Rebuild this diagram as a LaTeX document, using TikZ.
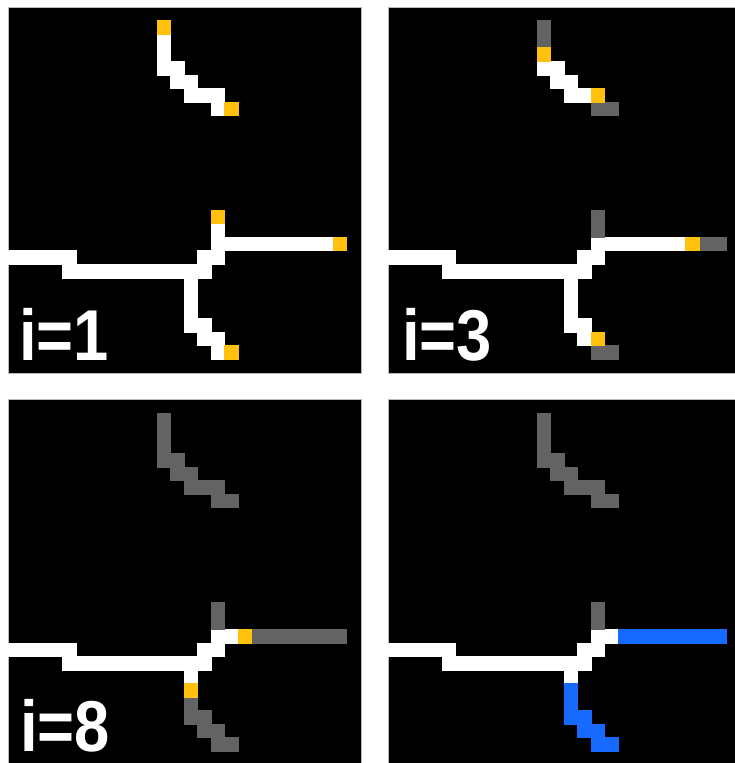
\documentclass[tikz,border=0pt]{standalone}
\usepackage{fontspec}
\setsansfont{Liberation Sans}
\definecolor{pixyellow}{RGB}{255,193,14}
\definecolor{pixgray}{RGB}{99,99,99}
\definecolor{pixblue}{RGB}{22,106,255}

\begin{document}
\begin{tikzpicture}[x=1pt, y=-1pt,
  panel/.style={fill=black, draw=gray!55, line width=0.6pt},
  pixgrid/.style={x=13.53pt, y=-13.53pt},
  pxwhite/.style={fill=white, draw=white, line width=0.2pt},
  pxtip/.style={fill=pixyellow, draw=pixyellow, line width=0.2pt},
  pxgone/.style={fill=pixgray, draw=pixgray, line width=0.2pt},
  pxkept/.style={fill=pixblue, draw=pixblue, line width=0.2pt},
  steplabel/.style={text=white, font=\sffamily\bfseries\fontsize{72}{72}\selectfont,
    inner sep=0pt, anchor=base west}]

\useasboundingbox[fill=white] (0,0) rectangle (735,763);

% --- Paneles ---
\path[panel] (8,7) rectangle (361,373);
\path[panel] (388,7) rectangle (736,373);
\path[panel] (8,399.3) rectangle (361,764);
\path[panel] (388,399.3) rectangle (736,764);

% --- Panel 1: i=1 ---
\begin{scope}[shift={(8pt,-7pt)}, pixgrid]
  % tronco
  \foreach \c/\r in {0/18,1/18,2/18,3/18,4/18,4/19,5/19,6/19,7/19,8/19,9/19,10/19,
      11/19,12/19,13/19,14/19,14/18,15/18,15/17}
    \path[pxwhite] (\c,\r) rectangle ++(1,1);
  % ramas
  \foreach \c/\r in {11/2,11/3,11/4,12/4,12/5,13/5,13/6,14/6,15/6,15/7,15/16,
      13/20,13/21,13/22,13/23,14/23,14/24,15/24,15/25}
    \path[pxwhite] (\c,\r) rectangle ++(1,1);
  \foreach \c in {16,...,23}
    \path[pxwhite] (\c,17) rectangle ++(1,1);
  % extremos
  \foreach \c/\r in {11/1,16/7,15/15,24/17,16/25}
    \path[pxtip] (\c,\r) rectangle ++(1,1);
\end{scope}
\node[steplabel] (lab1) at (19,360) {\scalebox{0.88}[1]{i=1}};

% --- Panel 2: i=3 ---
\begin{scope}[shift={(387.8pt,-7pt)}, pixgrid]
  \foreach \c/\r in {0/18,1/18,2/18,3/18,4/18,4/19,5/19,6/19,7/19,8/19,9/19,10/19,
      11/19,12/19,13/19,14/19,14/18,15/18,15/17}
    \path[pxwhite] (\c,\r) rectangle ++(1,1);
  \foreach \c/\r in {11/4,12/4,12/5,13/5,13/6,14/6,
      13/20,13/21,13/22,13/23,14/23,14/24}
    \path[pxwhite] (\c,\r) rectangle ++(1,1);
  \foreach \c in {16,...,21}
    \path[pxwhite] (\c,17) rectangle ++(1,1);
  \foreach \c/\r in {11/1,11/2,15/7,16/7,15/15,15/16,23/17,24/17,15/25,16/25}
    \path[pxgone] (\c,\r) rectangle ++(1,1);
  \foreach \c/\r in {11/3,15/6,22/17,15/24}
    \path[pxtip] (\c,\r) rectangle ++(1,1);
\end{scope}
\node[steplabel] (lab3) at (402,360) {\scalebox{0.88}[1]{i=3}};

% --- Panel 3: i=8 ---
\begin{scope}[shift={(8pt,-399.3pt)}, pixgrid]
  \foreach \c/\r in {0/18,1/18,2/18,3/18,4/18,4/19,5/19,6/19,7/19,8/19,9/19,10/19,
      11/19,12/19,13/19,14/19,14/18,15/18,15/17,16/17,13/20}
    \path[pxwhite] (\c,\r) rectangle ++(1,1);
  \foreach \c/\r in {11/1,11/2,11/3,11/4,12/4,12/5,13/5,13/6,14/6,15/6,15/7,16/7,
      15/15,15/16,13/22,13/23,14/23,14/24,15/24,15/25,16/25}
    \path[pxgone] (\c,\r) rectangle ++(1,1);
  \foreach \c in {18,...,24}
    \path[pxgone] (\c,17) rectangle ++(1,1);
  \foreach \c/\r in {17/17,13/21}
    \path[pxtip] (\c,\r) rectangle ++(1,1);
\end{scope}
\node[steplabel] (lab8) at (20,751) {\scalebox{0.88}[1]{i=8}};

% --- Panel 4: resultado ---
\begin{scope}[shift={(387.8pt,-399.3pt)}, pixgrid]
  \foreach \c/\r in {0/18,1/18,2/18,3/18,4/18,4/19,5/19,6/19,7/19,8/19,9/19,10/19,
      11/19,12/19,13/19,14/19,14/18,15/18,15/17,16/17,13/20}
    \path[pxwhite] (\c,\r) rectangle ++(1,1);
  \foreach \c/\r in {11/1,11/2,11/3,11/4,12/4,12/5,13/5,13/6,14/6,15/6,15/7,16/7,
      15/15,15/16}
    \path[pxgone] (\c,\r) rectangle ++(1,1);
  \foreach \c/\r in {13/21,13/22,13/23,14/23,14/24,15/24,15/25,16/25}
    \path[pxkept] (\c,\r) rectangle ++(1,1);
  \foreach \c in {17,...,24}
    \path[pxkept] (\c,17) rectangle ++(1,1);
\end{scope}

\end{tikzpicture}
\end{document}
